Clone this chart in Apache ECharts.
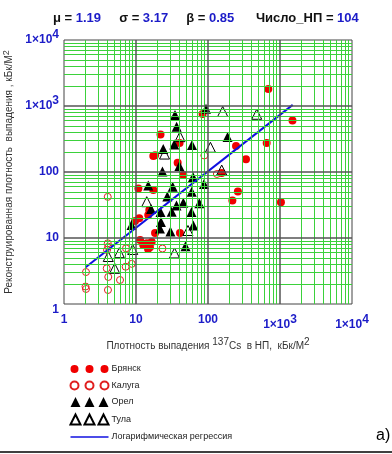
<!DOCTYPE html>
<html>
<head>
<meta charset="utf-8">
<script src="https://cdn.jsdelivr.net/npm/echarts@6/dist/echarts.min.js"></script>
<style>
  body { margin: 0; background: #fff; }
</style>
</head>
<body>
<div id="myChart1" style="width: 392px; height: 454px;"></div>
<script>
// Брянск (закрашенные кружки)
var bryanskX = [688, 1490, 653, 245, 337, 84, 155, 260, 218, 1030, 21.9, 40.3, 18.4, 17.4, 37.9, 45.4, 10.8, 17.4, 15.3, 40.8, 11.1, 9.7, 14.8, 12.6, 14.1, 15.6, 16.5, 14.7, 18.4, 11.4];
var bryanskY = [1810, 603, 275, 248, 156, 757, 96.6, 50.7, 37, 34.7, 370, 275, 179, 175, 138, 90, 56.2, 53.4, 26.6, 11.9, 19.9, 18.1, 22.3, 7.83, 8.31, 7.23, 8.7, 6.81, 11.9, 9.3];
// Калуга (пустые кружки)
var kalugaX = [88.9, 133, 23.3, 4.05, 4.05, 4.12, 3.96, 7.26, 3.92, 7.19, 8.72, 4.12, 6.0, 4.08, 2.02, 1.99, 2.02];
var kalugaY = [178, 93.3, 6.93, 42, 8.31, 7.38, 6.58, 6.98, 3.47, 3.67, 4.06, 2.57, 2.31, 1.63, 3.05, 1.84, 1.69];
// Орел (закрашенные треугольники)
var orelX = [93.8, 34.8, 36.7, 187, 34.0, 59.9, 23.9, 40, 23.3, 61.9, 88, 75.7, 14.8, 32.3, 59.4, 27.2, 45.4, 36.5, 31.3, 21.9, 59, 8.66, 62.5, 21.5, 30.1, 48.7, 16.2, 22.2];
var orelY = [910, 731, 486, 339, 261, 257, 223, 123, 102, 84, 65.8, 33.6, 62.4, 59.9, 50.3, 42.5, 34.3, 31.1, 25.0, 24.8, 24.8, 15.7, 15.5, 13.9, 12.5, 7.48, 27.5, 17.5];
// Тула (пустые треугольники)
var tulaX = [160, 475, 40.8, 108, 24.9, 155, 14.1, 52.7, 34.3, 9.0, 5.86, 4.12, 5.06];
var tulaY = [826, 749, 343, 237, 187, 107, 35.5, 13.0, 5.93, 6.7, 5.99, 5.24, 3.47];
// логарифмическая регрессия (концы линии)
var regX = [2, 1500];
var regY = [3.6, 1040];

var tickText = ["1", "10", "100", "1×10", "1×10"];
var tickPower = ["", "", "", "3", "4"];
var decades = [10, 100, 1000];

var blue = "#1c1cc8";
var green = "#3bd13b";

function pairs(xs, ys) {
  return xs.map(function (x, i) { return [x, ys[i]]; });
}

function tickLabel(value) {
  var i = Math.round(Math.log10(value));
  if (tickPower[i]) return "{a|" + tickText[i] + "}{s|" + tickPower[i] + "}";
  return "{a|" + tickText[i] + "}";
}

// линии сетки: зелёные 2..9 в каждой декаде, тёмные на декадах
var gridLines = [];
for (var d = 1; d < 10000; d *= 10) {
  for (var k = 2; k <= 9; k++) {
    gridLines.push({ xAxis: k * d });
    gridLines.push({ yAxis: k * d });
  }
}
decades.forEach(function (v) {
  gridLines.push({ xAxis: v, lineStyle: { color: "#555", width: 1.5 } });
  gridLines.push({ yAxis: v, lineStyle: { color: "#555", width: 1.5 } });
});

var labelRich = {
  a: { color: blue, fontWeight: "bold", fontSize: 12, fontFamily: "Liberation Sans" },
  s: { color: blue, fontWeight: "bold", fontSize: 12, fontFamily: "Liberation Sans", padding: [0, 0, 10, 0] }
};

var circles3 = "path://M0,5a4,4 0 1,0 8,0a4,4 0 1,0 -8,0zM15,5a4,4 0 1,0 8,0a4,4 0 1,0 -8,0zM30,5a4,4 0 1,0 8,0a4,4 0 1,0 -8,0z";
var triangles3 = "path://M0,10L5,0L10,10ZM14,10L19,0L24,10ZM28,10L33,0L38,10Z";
var lineIcon = "path://M0,4L38,4L38,5.6L0,5.6Z";

var myChart = echarts.init(document.getElementById("myChart1"));
var option = {
  animation: false,
  textStyle: { fontFamily: "Liberation Sans" },
  title: {
    left: 48,
    top: 7,
    text: "{k|μ = }{v|1.19}     {k|σ = }{v|3.17}     {k|β = }{v|0.85}      {k|Число_НП = }{v|104}",
    textStyle: {
      fontSize: 13,
      fontWeight: "bold",
      rich: {
        k: { color: "#111", fontWeight: "bold", fontSize: 13, fontFamily: "Liberation Sans" },
        v: { color: blue, fontWeight: "bold", fontSize: 13, fontFamily: "Liberation Sans" }
      }
    }
  },
  grid: {
    left: 64,
    right: 40,
    top: 40,
    bottom: 150,
    outerBoundsMode: "none",
    show: true,
    borderColor: "#444",
    borderWidth: 1
  },
  xAxis: {
    type: "log",
    logBase: 10,
    min: 1,
    max: 10000,
    axisLine: { show: false },
    axisTick: { show: false },
    splitLine: { show: false },
    axisLabel: { margin: 10, formatter: tickLabel, rich: labelRich },
    name: "Плотность выпадения {s|137}Cs  в НП,  кБк/М{s|2}",
    nameLocation: "middle",
    nameGap: 33,
    nameTextStyle: {
      color: "#333",
      fontSize: 10,
      rich: { s: { color: "#333", fontSize: 10, padding: [0, 0, 8, 0] } }
    }
  },
  yAxis: {
    type: "log",
    logBase: 10,
    min: 1,
    max: 10000,
    axisLine: { show: false },
    axisTick: { show: false },
    splitLine: { show: false },
    axisLabel: { margin: 5, formatter: tickLabel, rich: labelRich, verticalAlignMinLabel: "top" },
    name: "Реконструированная плотность  выпадения , кБк/М{s|2}",
    nameLocation: "middle",
    nameGap: 46,
    nameTextStyle: {
      color: "#333",
      fontSize: 10,
      rich: { s: { color: "#333", fontSize: 9, padding: [0, 0, 6, 0] } }
    }
  },
  legend: {
    orient: "vertical",
    left: 68,
    top: 364,
    padding: 0,
    itemWidth: 38,
    itemHeight: 10,
    itemGap: 5,
    symbolKeepAspect: true,
    textStyle: { color: "#222", fontSize: 9, lineHeight: 10, padding: [0, 0, 0, -2] },
    data: [
      { name: "Брянск", icon: circles3 },
      { name: "Калуга", icon: circles3 },
      { name: "Орел", icon: triangles3 },
      { name: "Тула", icon: triangles3 },
      { name: "Логарифмическая регрессия", icon: lineIcon }
    ]
  },
  graphic: [
    { type: "text", left: 376, top: 428, style: { text: "а)", fontSize: 16, fill: "#000", fontFamily: "Liberation Sans" } },
    { type: "line", shape: { x1: 0, y1: 452, x2: 392, y2: 452 }, style: { stroke: "#000", lineWidth: 1.5 } }
  ],
  series: [
    {
      name: "grid",
      type: "scatter",
      data: [],
      z: 1,
      markLine: {
        silent: true,
        symbol: ["none", "none"],
        label: { show: false },
        animation: false,
        lineStyle: { color: green, width: 1, type: "solid" },
        data: gridLines
      }
    },
    {
      name: "Брянск",
      type: "scatter",
      z: 3,
      symbol: "circle",
      symbolSize: 8,
      itemStyle: { color: "#f00000", opacity: 1 },
      data: pairs(bryanskX, bryanskY)
    },
    {
      name: "Калуга",
      type: "scatter",
      z: 3,
      symbol: "circle",
      symbolSize: 7,
      itemStyle: { color: "none", borderColor: "#e02020", borderWidth: 1, opacity: 1 },
      data: pairs(kalugaX, kalugaY)
    },
    {
      name: "Орел",
      type: "scatter",
      z: 3,
      symbol: "triangle",
      symbolSize: 10,
      itemStyle: { color: "#000", opacity: 1 },
      data: pairs(orelX, orelY)
    },
    {
      name: "Тула",
      type: "scatter",
      z: 3,
      symbol: "triangle",
      symbolSize: 10,
      itemStyle: { color: "none", borderColor: "#000", borderWidth: 1, opacity: 1 },
      data: pairs(tulaX, tulaY)
    },
    {
      name: "Логарифмическая регрессия",
      type: "line",
      z: 4,
      symbol: "none",
      lineStyle: { color: "#1010e0", width: 2 },
      itemStyle: { color: "#1010e0" },
      data: pairs(regX, regY)
    }
  ]
};
myChart.setOption(option);
</script>
</body>
</html>
